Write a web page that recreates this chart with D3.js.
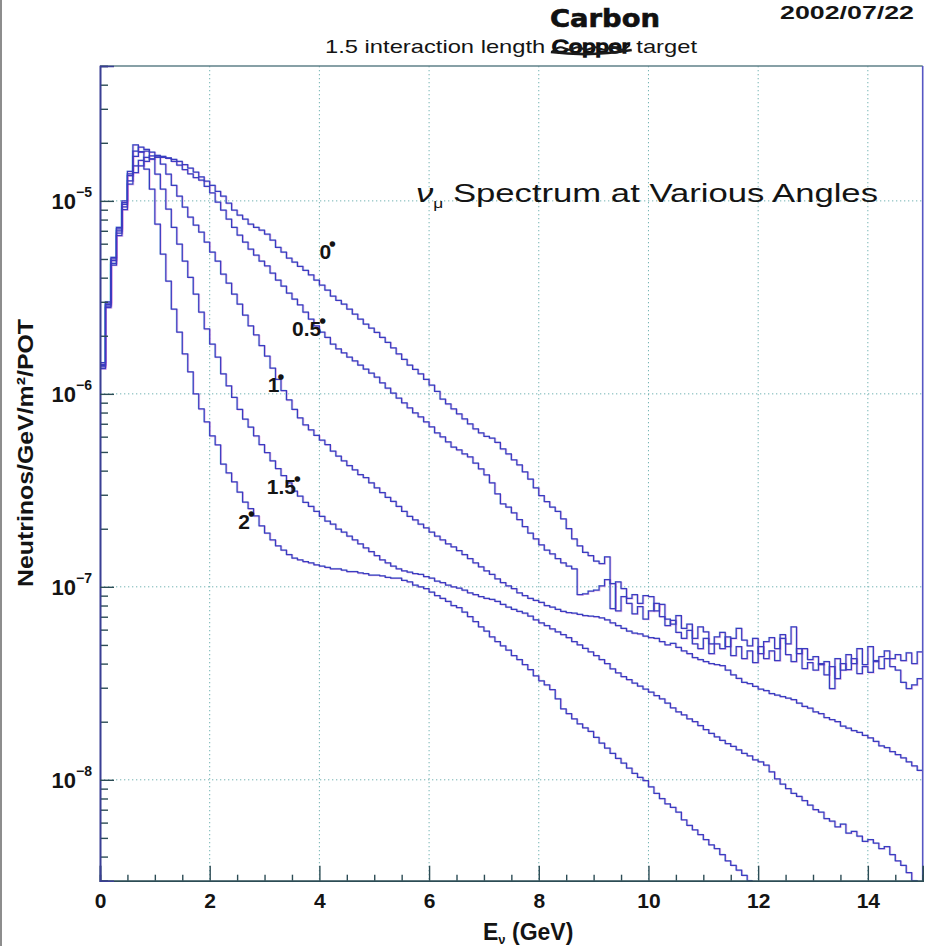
<!DOCTYPE html>
<html>
<head>
<meta charset="utf-8">
<script src="https://cdn.jsdelivr.net/npm/d3@7"></script>
<style>
  body { margin: 0; background: #fff; }
  svg { display: block; }
</style>
</head>
<body>
<svg id="chart" width="925" height="946"></svg>
<script>
// Muon-neutrino flux per 0.1 GeV bin, in units of 1e-8 neutrinos/GeV/m^2/POT.
const UNIT = 1e-8;
const BIN_WIDTH = 0.1; // GeV

const flux0 = [
  135, 280, 465, 660, 900, 1220,
  1400, 1520, 1600, 1650, 1690, 1680, 1670, 1640, 1600, 1540, 1480, 1410,
  1330, 1265, 1205, 1120, 1057, 973, 896, 843, 804, 757, 730, 705,
  672, 626, 575, 543, 505, 482, 458, 437, 413, 389, 366, 345,
  321, 305, 292, 275, 259, 244, 230, 219, 208, 196, 185, 173,
  161, 151, 141, 134, 127, 119, 111, 103, 94, 88.6, 83.5, 78.7,
  74.1, 69.8, 65.8, 62.7, 60.2, 59, 56, 51.8, 48.8, 45.5, 42.8, 39.4,
  36.2, 32.6, 29.7, 27.6, 25.9, 24.6, 22.5, 20.0, 17.7, 16.3, 15.1, 14.5,
  13.6, 13.2, 14.3,
  7.7, 10.6, 9.8, 8.7, 9.1, 8.2, 9.0, 8.9, 7.5, 8.1, 6.8, 6.4,
  7.1, 6.1, 6.4, 5.4, 6.2, 5.85, 5.07, 5.5, 5.8, 4.9, 5.4, 6.1,
  5.3, 4.95, 5.4, 4.5, 5.2, 5.45, 4.78, 5.65, 5.07, 6.2, 4.5, 4.78,
  4.2, 4.35, 3.95, 4.1, 2.97, 4.24, 3.7, 4.45, 4.0, 4.78, 3.95, 4.9,
  4.15, 4.35, 4.65, 4.24, 4.45, 4.15, 4.55, 4.0, 4.6
];

const flux05 = [
  138, 285, 475, 680, 930, 1270,
  1520, 1620, 1680, 1710, 1720, 1700, 1660, 1600, 1530, 1450, 1380, 1320,
  1280, 1190, 1100, 985, 896, 804, 730, 664, 612, 562, 523, 488,
  460, 422, 389, 362, 333, 310, 289, 265, 244, 225, 209, 196,
  181, 171, 163, 155, 148, 141, 134.5, 128, 122, 114, 107, 101,
  95, 89.7, 84.5, 79.6, 75.9, 71.5, 67.4, 62.7, 59.8, 56.3, 53.0, 51.2,
  48.8, 47.1, 43.8, 40.8, 38, 34.6, 30.3, 26.9, 25.9, 24.2, 22.3, 20.5,
  19.0, 17.7, 16.5, 15.5, 14.8, 14.0, 13.3, 12.8, 12.4, 9.1, 9.2, 9.5,
  9.6, 10.1, 10.9,
  10.4, 7.5, 8.9, 8.2, 7.25, 7.9, 6.8, 7.5, 8.2, 7.0, 6.3, 6.7,
  5.8, 5.4, 5.95, 5.07, 4.78, 5.4, 4.5, 5.07, 4.78, 5.5, 4.4, 4.9,
  4.24, 4.65, 4.05, 4.9, 4.24, 4.65, 4.15, 5.4, 4.45, 4.1, 4.78, 3.77,
  4.05, 3.7, 4.0, 3.5, 3.86, 3.34, 4.0, 3.72, 4.24, 3.55, 3.86, 3.6,
  4.1, 3.77, 4.24, 3.86, 3.7, 3.2, 2.97, 3.1, 3.34
];

const flux1 = [
  140, 290, 490, 700, 960, 1350,
  1700, 1790, 1810, 1790, 1680, 1550, 1375, 1205, 1057, 928, 823, 749,
  689, 612, 543, 488, 417, 375, 329, 292, 256, 225, 202, 178,
  157, 136, 119, 104, 93, 83, 75, 69, 65, 61, 57.5, 54.5,
  50.5, 47.6, 45, 42.5, 40.4, 38.1, 36.8, 34.6, 32.6, 30.8, 29.1, 27.7,
  26.1, 24.6, 23.2, 22.2, 21.1, 20.2, 19.2, 18.3, 17.5, 16.7, 16.1, 15.4,
  14.7, 14.0, 13.3, 12.7, 12.1, 11.6, 11.0, 10.5, 10.1, 9.78, 9.3, 9.0,
  8.7, 8.5, 8.3, 8.0, 7.85, 7.65, 7.45, 7.35, 7.3, 7.2, 7.1, 7.05,
  7.0, 6.9, 6.75, 6.5, 6.3, 6.1, 5.9, 5.75, 5.7, 5.55, 5.45, 5.4,
  5.2, 5.0, 5.1, 4.85, 4.65, 4.5, 4.3, 4.2, 4.1, 4.0, 3.95, 3.9,
  3.7, 3.5, 3.35, 3.2, 3.15, 3.05, 2.95, 2.9, 2.8, 2.75, 2.7, 2.65,
  2.6, 2.5, 2.4, 2.35, 2.25, 2.2, 2.1, 2.05, 2.0, 1.9, 1.85, 1.8,
  1.76, 1.70, 1.65, 1.58, 1.5, 1.47, 1.4, 1.35, 1.3, 1.24, 1.18, 1.12
];

const flux15 = [
  142, 295, 500, 715, 980, 1380,
  1810, 1900, 1850, 1644, 1375, 1150, 906, 730, 597, 488, 402, 329,
  265, 217, 181, 155, 127, 110, 96, 83, 74, 67.3, 60.5, 54.5,
  49.6, 45, 41, 37.7, 34.6, 31.3, 29.5, 27.4, 26.1, 24.6, 23.2, 21.9,
  21.1, 19.9, 19.2, 18.3, 17.5, 16.7, 15.9, 15.2, 14.5, 13.8, 13.3, 12.8,
  12.4, 12.1, 11.9, 11.7, 11.6, 11.3, 11.1, 10.7, 10.5, 10.2, 10.0, 9.85,
  9.6, 9.3, 9.1, 8.9, 8.7, 8.6, 8.4, 8.1, 7.85, 7.65, 7.45, 7.3,
  7.05, 6.75, 6.5, 6.3, 6.05, 5.85, 5.65, 5.45, 5.2, 5.0, 4.8, 4.6,
  4.4, 4.2, 4.0, 3.76, 3.58, 3.42, 3.3, 3.17, 3.06, 2.95, 2.85, 2.73,
  2.63, 2.5, 2.36, 2.25, 2.17, 2.07, 2.0, 1.91, 1.82, 1.74, 1.67, 1.60,
  1.54, 1.49, 1.43, 1.37, 1.33, 1.27, 1.24, 1.19, 1.10, 1.01, 0.95, 0.90,
  0.85, 0.82, 0.78, 0.74, 0.70, 0.68, 0.63, 0.61, 0.57, 0.59, 0.53, 0.54,
  0.51, 0.48, 0.49, 0.47, 0.44, 0.45, 0.41, 0.38, 0.36, 0.33, 0.30, 0.28
];

const flux2 = [
  145, 300, 510, 730, 1000, 1420,
  1950, 1800, 1460, 1150, 757, 530, 384, 275, 209, 161, 130, 100,
  83.5, 71.5, 60.5, 54.4, 43.3, 38.9, 35, 31, 27.5, 25.4, 23.3, 20.7,
  19.0, 17.5, 16.3, 15.5, 14.7, 14.1, 13.8, 13.5, 13.3, 13.0, 12.8, 12.6,
  12.4, 12.4, 12.2, 12.0, 12.0, 11.8, 11.7, 11.5, 11.5, 11.4, 11.2, 11.1,
  11.1, 10.8, 10.6, 10.2, 10.0, 9.78, 9.4, 9.0, 8.7, 8.4, 8.0, 7.8,
  7.4, 7.0, 6.6, 6.2, 5.9, 5.5, 5.2, 4.95, 4.7, 4.4, 4.2, 3.95,
  3.72, 3.46, 3.26, 3.1, 2.93, 2.63, 2.33, 2.2, 2.07, 1.95, 1.86, 1.78,
  1.66, 1.55, 1.46, 1.37, 1.29, 1.22, 1.15, 1.08, 1.03, 0.99, 0.92, 0.85,
  0.80, 0.75, 0.72, 0.68, 0.62, 0.58, 0.55, 0.52, 0.49, 0.46, 0.44, 0.41,
  0.38, 0.36, 0.34, 0.32, 0.30
];

const series = [flux0, flux05, flux1, flux15, flux2];
const angleLabels = ["0°", "0.5°", "1°", "1.5°", "2°"];

const xTicks = [0, 2, 4, 6, 8, 10, 12, 14];
const xTickLabels = ["0", "2", "4", "6", "8", "10", "12", "14"];
const yDecades = [1e-5, 1e-6, 1e-7, 1e-8];
const yTickExponents = ["−5", "−6", "−7", "−8"];

// ---------------------------------------------------------------------------
const svg = d3.select("#chart");
const plot = { left: 100, right: 922.7, top: 66, bottom: 880.7 };
const x = d3.scaleLinear().domain([0, 15]).range([plot.left, plot.right]);
const y = d3.scaleLog().domain([3e-9, 5e-5]).range([plot.bottom, plot.top]);

const FONT = "'Liberation Sans', Arial, Helvetica, sans-serif";
const INK = "#141414";

// scanned page edge on the left
svg.append("rect").attr("x", 0).attr("y", 0).attr("width", 2).attr("height", 946)
  .attr("fill", "#8d8d8d");

// dotted grid
const grid = svg.append("g")
  .attr("stroke", "#72b3b3").attr("stroke-width", 1).attr("stroke-dasharray", "1.3,2.7");
grid.selectAll("line.v").data(xTicks.filter(d => d > 0)).join("line").attr("class", "v")
  .attr("x1", d => x(d)).attr("x2", d => x(d))
  .attr("y1", plot.top).attr("y2", plot.bottom);
grid.selectAll("line.h").data(yDecades).join("line").attr("class", "h")
  .attr("x1", plot.left).attr("x2", plot.right)
  .attr("y1", d => y(d)).attr("y2", d => y(d));

// histograms
svg.append("clipPath").attr("id", "plotClip").append("rect")
  .attr("x", plot.left).attr("y", plot.top)
  .attr("width", plot.right - plot.left).attr("height", plot.bottom - plot.top);

const stepLine = d3.line()
  .x(d => x(d[0])).y(d => y(d[1]))
  .curve(d3.curveStepAfter);

function binPoints(arr) {
  const pts = arr.map((v, i) => [i * BIN_WIDTH, v * UNIT]);
  pts.push([arr.length * BIN_WIDTH, arr[arr.length - 1] * UNIT]);
  return pts;
}

const curves = svg.append("g").attr("clip-path", "url(#plotClip)").attr("fill", "none");
// faint colour fringes of the printed trace, then the trace itself
curves.selectAll("path.fringeM").data(series).join("path").attr("class", "fringeM")
  .attr("d", d => stepLine(binPoints(d)))
  .attr("transform", "translate(0.8,0.6)")
  .attr("stroke", "#d77ad7").attr("stroke-opacity", 0.45).attr("stroke-width", 1.2);
curves.selectAll("path.fringeC").data(series).join("path").attr("class", "fringeC")
  .attr("d", d => stepLine(binPoints(d)))
  .attr("transform", "translate(-0.7,-0.4)")
  .attr("stroke", "#5fc6d6").attr("stroke-opacity", 0.35).attr("stroke-width", 1.1);
curves.selectAll("path.trace").data(series).join("path").attr("class", "trace")
  .attr("d", d => stepLine(binPoints(d)))
  .attr("stroke", "#3b3bc0").attr("stroke-width", 1.25);

// frame: top and right edges
svg.append("line").attr("x1", plot.left).attr("x2", plot.right)
  .attr("y1", plot.top).attr("y2", plot.top)
  .attr("stroke", "#5f8188").attr("stroke-width", 1.3);
svg.append("line").attr("x1", plot.right).attr("x2", plot.right)
  .attr("y1", plot.top).attr("y2", plot.bottom)
  .attr("stroke", "#5656c4").attr("stroke-width", 1.6);

// x axis
const xMinor = d3.range(1, 30).map(i => i * 0.5).filter(d => d % 2 !== 0);
const gxMinor = svg.append("g").attr("transform", `translate(0,${plot.bottom})`)
  .call(d3.axisBottom(x).tickValues(xMinor).tickSize(-6).tickFormat(""));
const gx = svg.append("g").attr("transform", `translate(0,${plot.bottom})`)
  .call(d3.axisBottom(x).tickValues(xTicks).tickSize(-15).tickPadding(12)
    .tickFormat((d, i) => xTickLabels[i]));
[gxMinor, gx].forEach(g => {
  g.select(".domain").attr("stroke", "#2c4c55").attr("stroke-width", 1.6);
  g.selectAll(".tick line").attr("stroke", "#2c4c55").attr("stroke-width", 1.4);
});
gx.selectAll(".tick text")
  .attr("font-family", FONT).attr("font-weight", "bold").attr("font-size", 21)
  .attr("fill", INK);

// y axis (log)
const yMinor = [];
for (let e = -9; e <= -5; e++) {
  for (let k = 2; k <= 9; k++) {
    const v = k * Math.pow(10, e);
    if (v >= 3e-9 && v <= 5e-5) yMinor.push(v);
  }
}
const gyMinor = svg.append("g").attr("transform", `translate(${plot.left},0)`)
  .call(d3.axisLeft(y).tickValues(yMinor).tickSize(-8).tickFormat(""));
const gy = svg.append("g").attr("transform", `translate(${plot.left},0)`)
  .call(d3.axisLeft(y).tickValues(yDecades).tickSize(-14).tickPadding(8).tickFormat(""));
[gyMinor, gy].forEach(g => {
  g.select(".domain").attr("stroke", "#3a3f94").attr("stroke-width", 1.6);
  g.selectAll(".tick line").attr("stroke", "#2c4c55").attr("stroke-width", 1.4);
});
gy.selectAll(".tick text")
  .attr("font-family", FONT).attr("font-weight", "bold").attr("font-size", 22)
  .attr("fill", INK).attr("dy", "0.34em")
  .each(function (d, i) {
    const t = d3.select(this);
    t.append("tspan").text("10");
    t.append("tspan").attr("font-size", 14).attr("dy", -12).text(yTickExponents[i]);
  });

// axis titles
svg.append("text")
  .attr("x", 483).attr("y", 940)
  .attr("font-family", FONT).attr("font-weight", "bold").attr("font-size", 23).attr("fill", INK)
  .call(t => {
    t.append("tspan").text("E");
    t.append("tspan").attr("font-size", 13).attr("dy", 4).text("ν");
    t.append("tspan").attr("dy", -4).text(" (GeV)");
  });

svg.append("text")
  .attr("transform", "translate(33,453) rotate(-90)")
  .attr("text-anchor", "middle")
  .attr("font-family", FONT).attr("font-weight", "bold").attr("font-size", 22).attr("fill", INK)
  .attr("textLength", 268).attr("lengthAdjust", "spacingAndGlyphs")
  .text("Neutrinos/GeV/m²/POT");

// page header
svg.append("text")
  .attr("x", 780).attr("y", 19)
  .attr("font-family", FONT).attr("font-weight", "bold").attr("font-size", 18).attr("fill", INK)
  .attr("textLength", 134).attr("lengthAdjust", "spacingAndGlyphs")
  .text("2002/07/22");

svg.append("text")
  .attr("x", 550).attr("y", 27)
  .attr("font-family", "'DejaVu Sans', sans-serif").attr("font-weight", "bold")
  .attr("font-size", 25).attr("fill", "#111")
  .attr("stroke", "#111").attr("stroke-width", 0.6)
  .attr("textLength", 110).attr("lengthAdjust", "spacingAndGlyphs")
  .text("Carbon");

const title = svg.append("text")
  .attr("x", 325).attr("y", 53)
  .attr("font-family", FONT).attr("font-size", 19).attr("fill", INK)
  .attr("textLength", 372).attr("lengthAdjust", "spacingAndGlyphs");
const titleWords = ["1.5 interaction length ", "Copper", " target"];
title.selectAll("tspan").data(titleWords).join("tspan")
  .attr("stroke", (d, i) => i === 1 ? "#111" : null)
  .attr("stroke-width", (d, i) => i === 1 ? 1.4 : null)
  .text(d => d);

// hand scribble over the crossed-out word
{
  const node = title.node();
  const start = titleWords[0].length;
  const x0 = node.getStartPositionOfChar(start).x;
  const x1 = node.getEndPositionOfChar(start + titleWords[1].length - 1).x;
  const base = 53;
  const zig = [];
  const n = 9;
  for (let i = 0; i <= n; i++) {
    const px = x0 + (x1 - x0) * i / n;
    zig.push([px, base - 4 + (i % 2 ? -4 : 3)]);
  }
  svg.append("path")
    .attr("d", d3.line().curve(d3.curveBasis)(zig))
    .attr("fill", "none").attr("stroke", "#1a1a1a").attr("stroke-width", 2.0);
  svg.append("path")
    .attr("d", `M${x0 - 1},${base - 1} Q${(x0 + x1) / 2},${base + 4} ${x1 + 2},${base - 3}`)
    .attr("fill", "none").attr("stroke", "#1a1a1a").attr("stroke-width", 2.6);
}

// panel title
svg.append("text")
  .attr("x", 416).attr("y", 202)
  .attr("font-family", FONT).attr("font-size", 26).attr("fill", INK)
  .attr("textLength", 462).attr("lengthAdjust", "spacingAndGlyphs")
  .call(t => {
    t.append("tspan").attr("font-style", "italic").text("ν");
    t.append("tspan").attr("font-size", 13).attr("dy", 6).text("μ");
    t.append("tspan").attr("dy", -6).text(" Spectrum at Various Angles");
  });

// angle labels, anchored in data coordinates (E in GeV, flux)
const labelAt = [[4.0, 5.0e-6], [3.50, 2.0e-6], [3.06, 1.02e-6], [3.04, 3.03e-7], [2.52, 2.0e-7]];
svg.append("g").selectAll("text").data(angleLabels).join("text")
  .attr("x", (d, i) => x(labelAt[i][0]))
  .attr("y", (d, i) => y(labelAt[i][1]))
  .attr("font-family", FONT).attr("font-weight", "bold").attr("font-size", 21).attr("fill", INK)
  .each(function (d) {
    const t = d3.select(this);
    t.append("tspan").text(d.replace("°", ""));
    t.append("tspan").attr("font-size", 12).attr("dy", -8).attr("dx", -1)
      .attr("stroke", INK).attr("stroke-width", 1.8).text("°");
  });
</script>
</body>
</html>
